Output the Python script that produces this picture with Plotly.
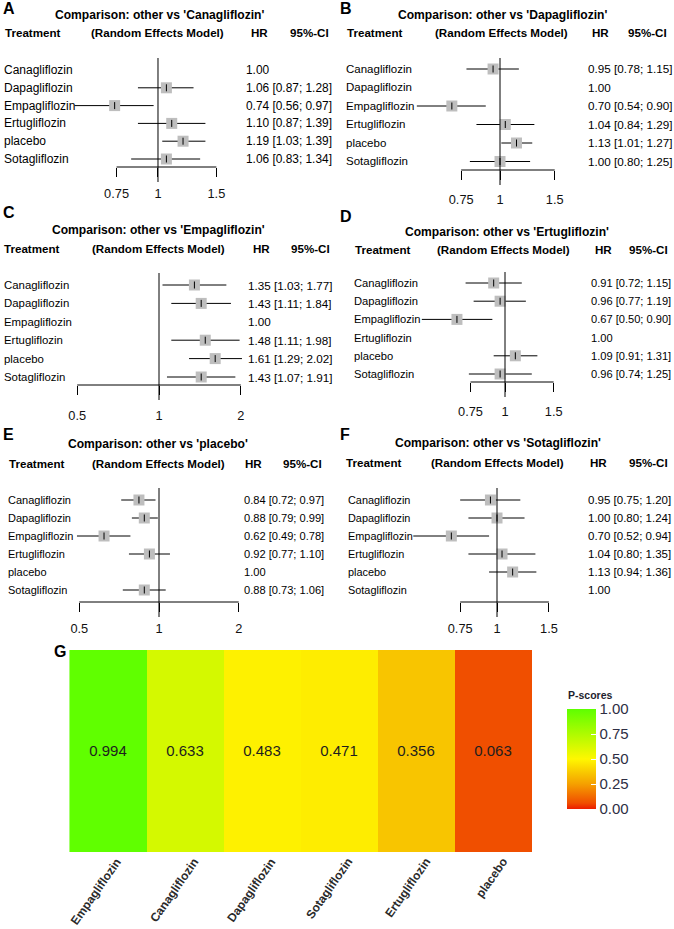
import math
import plotly.graph_objects as go

# ---------------- data ----------------
treatments = ["Canagliflozin", "Dapagliflozin", "Empagliflozin",
              "Ertugliflozin", "placebo", "Sotagliflozin"]

hr_A = [1.00, 1.06, 0.74, 1.10, 1.19, 1.06]
lo_A = [None, 0.87, 0.56, 0.87, 1.03, 0.83]
hi_A = [None, 1.28, 0.97, 1.39, 1.39, 1.34]

hr_B = [0.95, 1.00, 0.70, 1.04, 1.13, 1.00]
lo_B = [0.78, None, 0.54, 0.84, 1.01, 0.80]
hi_B = [1.15, None, 0.90, 1.29, 1.27, 1.25]

hr_C = [1.35, 1.43, 1.00, 1.48, 1.61, 1.43]
lo_C = [1.03, 1.11, None, 1.11, 1.29, 1.07]
hi_C = [1.77, 1.84, None, 1.98, 2.02, 1.91]

hr_D = [0.91, 0.96, 0.67, 1.00, 1.09, 0.96]
lo_D = [0.72, 0.77, 0.50, None, 0.91, 0.74]
hi_D = [1.15, 1.19, 0.90, None, 1.31, 1.25]

hr_E = [0.84, 0.88, 0.62, 0.92, 1.00, 0.88]
lo_E = [0.72, 0.79, 0.49, 0.77, None, 0.73]
hi_E = [0.97, 0.99, 0.78, 1.10, None, 1.06]

hr_F = [0.95, 1.00, 0.70, 1.04, 1.13, 1.00]
lo_F = [0.75, 0.80, 0.52, 0.80, 0.94, None]
hi_F = [1.20, 1.24, 0.94, 1.35, 1.36, None]

ticks_narrow = [0.75, 1, 1.5]
ticks_wide = [0.5, 1, 2]
tick_labels_narrow = ["0.75", "1", "1.5"]
tick_labels_wide = ["0.5", "1", "2"]

rank_treatments = ["Empagliflozin", "Canagliflozin", "Dapagliflozin",
                   "Sotagliflozin", "Ertugliflozin", "placebo"]
pscores = [0.994, 0.633, 0.483, 0.471, 0.356, 0.063]

# ---------------- fonts ----------------
FN = "Liberation Sans, Arial"
S_HEAD, S_TITLE, S_TICK = 11.6, 12.1, 12.8

W, H = 674, 929


def X(px):
    return px / W


def Y(py):
    return 1 - py / H


# ---------------- panel layout (pixels) ----------------
panels = [
    dict(letter="A", ref_name="Canagliflozin", hr=hr_A, lo=lo_A, hi=hi_A,
         ticks=ticks_narrow, tl=tick_labels_narrow,
         ref=158, k=144, row0=70, dy=17.8, bracket=167, top=58,
         lx=2, ly=8, title_x=159, title_y=15, head_y=33,
         treat_x=4, re_x=157, hr_hx=259, ci_hx=309,
         label_x=3, hr_x=245, standoff=6, s_lab=12.0, s_num=11.9),
    dict(letter="B", ref_name="Dapagliflozin", hr=hr_B, lo=lo_B, hi=hi_B,
         ticks=ticks_narrow, tl=tick_labels_narrow,
         ref=500, k=135, row0=69, dy=18.5, bracket=170, top=58,
         lx=339, ly=8, title_x=502, title_y=15, head_y=33,
         treat_x=346, re_x=501, hr_hx=600, ci_hx=647,
         label_x=345, hr_x=587, standoff=9, s_lab=11.5, s_num=11.7),
    dict(letter="C", ref_name="Empagliflozin", hr=hr_C, lo=lo_C, hi=hi_C,
         ticks=ticks_wide, tl=tick_labels_wide,
         ref=159, k=118, row0=285, dy=18.4, bracket=385, top=273,
         lx=2, ly=213, title_x=158, title_y=230, head_y=249,
         treat_x=3, re_x=158, hr_hx=261, ci_hx=310,
         label_x=3, hr_x=247, standoff=10, s_lab=11.4, s_num=11.7),
    dict(letter="D", ref_name="Ertugliflozin", hr=hr_D, lo=lo_D, hi=hi_D,
         ticks=ticks_narrow, tl=tick_labels_narrow,
         ref=505, k=120, row0=283, dy=18.2, bracket=382, top=272,
         lx=339, ly=217, title_x=507, title_y=232, head_y=250,
         treat_x=354, re_x=504, hr_hx=603, ci_hx=648,
         label_x=353, hr_x=590, standoff=9, s_lab=11.2, s_num=11.1),
    dict(letter="E", ref_name="placebo", hr=hr_E, lo=lo_E, hi=hi_E,
         ticks=ticks_wide, tl=tick_labels_wide,
         ref=159, k=115, row0=500, dy=18.0, bracket=602, top=488,
         lx=2, ly=435, title_x=158, title_y=444, head_y=463,
         treat_x=8, re_x=158, hr_hx=253, ci_hx=302,
         label_x=7, hr_x=243, standoff=6, s_lab=11.0, s_num=11.1),
    dict(letter="F", ref_name="Sotagliflozin", hr=hr_F, lo=lo_F, hi=hi_F,
         ticks=ticks_narrow, tl=tick_labels_narrow,
         ref=497, k=128, row0=500, dy=18.0, bracket=602, top=488,
         lx=339, ly=435, title_x=498, title_y=443, head_y=462,
         treat_x=345, re_x=497, hr_hx=598, ci_hx=648,
         label_x=347, hr_x=587, standoff=6, s_lab=10.9, s_num=11.5),
]

fig = go.Figure()
annotations = []
shapes = []
LO_V, HI_V = 0.35, 2.6
TICKLEN = 9
layout_axes = {}


def txt(x, y, s, size, bold=False, xanchor="left", yref="paper", color="black"):
    annotations.append(dict(
        x=x, y=y, xref="paper", yref=yref, text=s, showarrow=False,
        xanchor=xanchor, yanchor="middle", borderpad=0,
        font=dict(family=FN, size=size, color=color,
                  weight="bold" if bold else "normal")))


for i, p in enumerate(panels, start=1):
    xa = "x" if i == 1 else f"x{i}"
    ya = "y" if i == 1 else f"y{i}"
    xkey = "xaxis" if i == 1 else f"xaxis{i}"
    ykey = "yaxis" if i == 1 else f"yaxis{i}"

    px_lo = p["ref"] + p["k"] * math.log(LO_V)
    px_hi = p["ref"] + p["k"] * math.log(HI_V)
    top_px = p["top"] - 6
    layout_axes[xkey] = dict(
        type="log", domain=[X(px_lo), X(px_hi)],
        range=[math.log10(LO_V), math.log10(HI_V)], anchor=ya,
        showgrid=False, zeroline=False, showline=False,
        tickmode="array", tickvals=p["ticks"], ticktext=p["tl"],
        ticks="outside", ticklen=TICKLEN, tickwidth=1, tickcolor="black",
        tickfont=dict(family=FN, size=S_TICK, color="#111"),
        ticklabelstandoff=p["standoff"], fixedrange=True)
    layout_axes[ykey] = dict(
        domain=[Y(p["bracket"]), Y(top_px)],
        range=[(p["bracket"] - p["row0"]) / p["dy"], (top_px - p["row0"]) / p["dy"]],
        anchor=xa, showgrid=False, zeroline=False, showline=False,
        showticklabels=False, ticks="", fixedrange=True)

    rows = list(range(len(treatments)))
    # CI lines
    cx, cy = [], []
    for r in rows:
        if p["lo"][r] is not None:
            cx += [p["lo"][r], p["hi"][r], None]
            cy += [r, r, None]
    fig.add_trace(go.Scatter(x=cx, y=cy, xaxis=xa, yaxis=ya, mode="lines",
                             line=dict(color="black", width=1), hoverinfo="skip"))
    sx = [p["hr"][r] for r in rows if p["lo"][r] is not None]
    sy = [r for r in rows if p["lo"][r] is not None]
    fig.add_trace(go.Scatter(x=sx, y=sy, xaxis=xa, yaxis=ya, mode="markers",
                             marker=dict(symbol="square", size=11, color="#BEBEBE",
                                         line=dict(width=0)),
                             cliponaxis=False, hoverinfo="skip"))
    fig.add_trace(go.Scatter(x=sx, y=sy, xaxis=xa, yaxis=ya, mode="markers",
                             marker=dict(symbol="line-ns-open", size=5, color="black",
                                         line=dict(color="black", width=1)),
                             cliponaxis=False, hoverinfo="skip"))

    # reference line (extends below the axis like the centre tick)
    shapes.append(dict(type="line", xref=xa, yref="paper", x0=1, x1=1,
                       y0=Y(p["top"]), y1=Y(p["bracket"] + TICKLEN + 6),
                       line=dict(color="black", width=1)))
    # axis bracket
    shapes.append(dict(type="line", xref=xa, yref=f"{ya} domain",
                       x0=p["ticks"][0], x1=p["ticks"][-1], y0=0, y1=0,
                       line=dict(color="black", width=1)))

    # texts
    txt(X(p["lx"]), Y(p["ly"]), p["letter"], 16, bold=True)
    txt(X(p["title_x"]), Y(p["title_y"]),
        f"Comparison: other vs '{p['ref_name']}'", S_TITLE, bold=True, xanchor="center")
    txt(X(p["treat_x"]), Y(p["head_y"]), "Treatment", S_HEAD, bold=True)
    txt(X(p["re_x"]), Y(p["head_y"]), "(Random Effects Model)", S_HEAD, bold=True, xanchor="center")
    txt(X(p["hr_hx"]), Y(p["head_y"]), "HR", S_HEAD, bold=True, xanchor="center")
    txt(X(p["ci_hx"]), Y(p["head_y"]), "95%-CI", S_HEAD, bold=True, xanchor="center")
    for r in rows:
        txt(X(p["label_x"]), r, treatments[r], p["s_lab"], yref=ya)
        s = f"{p['hr'][r]:.2f}"
        if p["lo"][r] is not None:
            s += f" [{p['lo'][r]:.2f}; {p['hi'][r]:.2f}]"
        txt(X(p["hr_x"]), r, s, p["s_num"], yref=ya)

# ---------------- heatmap G ----------------
colorscale = [
    [0.0, "rgb(236,28,0)"],
    [0.06, "rgb(240,78,0)"],
    [0.25, "rgb(245,160,0)"],
    [0.36, "rgb(248,198,0)"],
    [0.5, "rgb(255,247,0)"],
    [1.0, "rgb(94,255,0)"],
]
fig.add_trace(go.Heatmap(
    z=[pscores], x=rank_treatments, y=[""], xaxis="x7", yaxis="y7",
    zmin=0, zmax=1, colorscale=colorscale,
    texttemplate="%{z:.3f}", textfont=dict(family=FN, size=15, color="#1e1e1e"),
    hoverinfo="skip",
    colorbar=dict(
        x=X(567), xanchor="left", y=Y(759), yanchor="middle",
        len=100, lenmode="pixels", thickness=29, thicknessmode="pixels",
        xpad=0, ypad=0, outlinewidth=0,
        tickmode="array", tickvals=[0, 0.25, 0.5, 0.75, 1],
        ticktext=["0.00", "0.25", "0.50", "0.75", "1.00"],
        ticks="inside", ticklen=5, tickcolor="white", tickwidth=1,
        tickfont=dict(family=FN, size=15, color="#2e2e44"),
    ),
))
txt(X(567), Y(695), "P-scores", 10.5, bold=True, color="#1e1e2e")
layout_axes["xaxis7"] = dict(
    domain=[X(67), X(532)], anchor="y7", showticklabels=False,
    showgrid=False, zeroline=False, showline=False, ticks="", fixedrange=True)
layout_axes["yaxis7"] = dict(
    domain=[Y(852), Y(650)], anchor="x7", showticklabels=False,
    showgrid=False, zeroline=False, showline=False, ticks="", fixedrange=True)
# rotated category labels (top-right end just below each cell)
for name in rank_treatments:
    annotations.append(dict(
        x=name, xref="x7", y=Y(854), yref="paper", text=name, showarrow=False,
        textangle=-55, xanchor="right", yanchor="top", xshift=18, borderpad=0,
        font=dict(family=FN, size=12, color="#2a2a2a", weight="bold")))
txt(X(53), Y(651), "G", 16, bold=True)

fig.update_layout(
    width=W, height=H, margin=dict(l=0, r=0, t=0, b=0),
    paper_bgcolor="white", plot_bgcolor="rgba(0,0,0,0)",
    template="none", showlegend=False,
    annotations=annotations, shapes=shapes,
    **layout_axes,
)

fig.write_html("out.html", config={"displayModeBar": False},
               post_script="document.body.style.margin='0';document.body.style.padding='0';")
